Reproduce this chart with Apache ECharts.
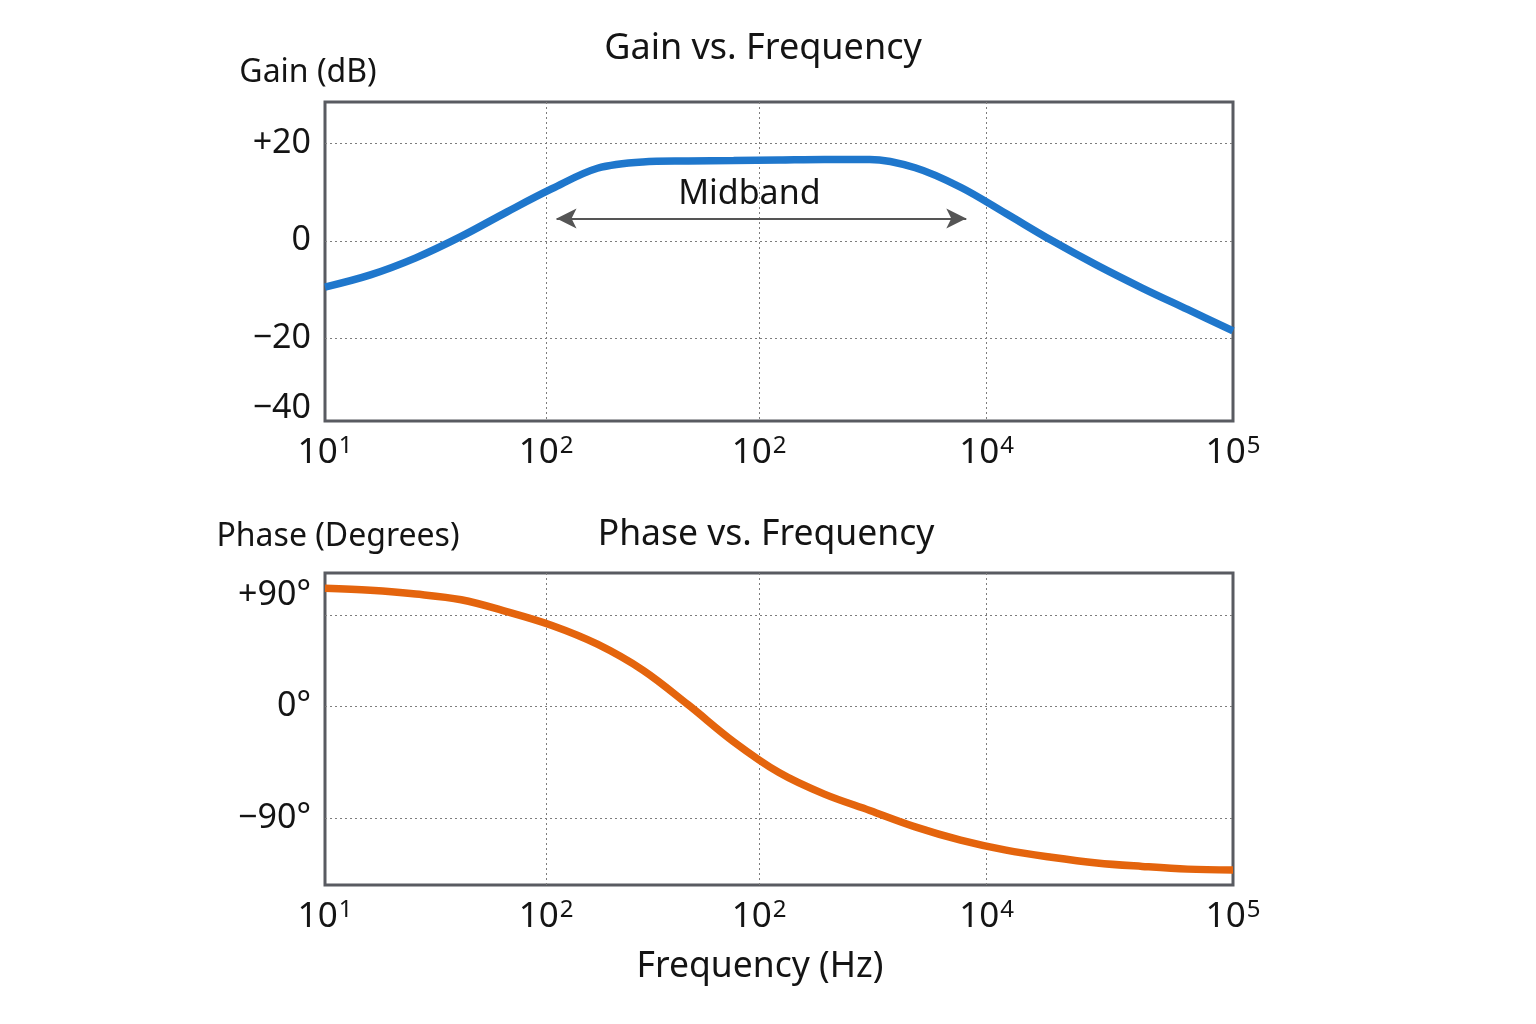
<!DOCTYPE html>
<html>
<head>
<meta charset="UTF-8">
<title>Gain / Phase vs. Frequency</title>
<script type="text/javascript" src="https://cdn.jsdelivr.net/npm/echarts@6/dist/echarts.min.js"></script>
<style>
	html, body { margin: 0; padding: 0; background: #fff; }
</style>
</head>
<body>
	<div id="box" style="width: 1536px; height: 1024px;"></div>

	<script type="text/javascript">
		// x is a position along the frequency axis, in "decades" from the left edge (1 .. 5)
		var xTickPos = [1, 1.974, 2.912, 3.915, 5];
		var xTickExp = ['1', '2', '2', '4', '5']; // labels as printed on the original
		var xGridPos = [1.974, 2.912, 3.915];

		// sample positions along x for both curves
		var curveX = [1.0, 1.2, 1.4, 1.6, 1.8, 2.0, 2.2, 2.4, 2.6, 2.8, 3.0, 3.2, 3.4, 3.6, 3.8, 4.0, 4.2, 4.4, 4.6, 4.8, 5.0];

		// gain curve (dB)
		var gainY = [-9.5, -7.0, -3.5, 0.9, 5.9, 10.7, 14.9, 16.2, 16.4, 16.5, 16.6, 16.7, 16.7, 15.0, 11.0, 5.6, 0.1, -5.0, -9.7, -14.1, -18.5];
		var gainTickVals = [20, 0, -20, -34.4];
		var gainTickLabels = ['+20', '0', '\u221220', '\u221240'];
		var gainGridVals = [20, 0, -20];
		var midband = [2.02, 3.825]; // arrow ends
		var midbandLevel = 4.6;

		// phase curve (degrees)
		var phaseY = [95.5, 93.8, 90.8, 86.2, 76.7, 65.5, 50.4, 29.5, 1.5, -28.2, -53.1, -70.5, -83.7, -96.9, -107.6, -115.7, -121.4, -126.0, -128.8, -131.0, -131.7];
		var phaseTickVals = [90, 0, -90];
		var phaseTickLabels = ['+90\u00b0', '0\u00b0', '\u221290\u00b0'];
		var phaseGridVals = [73.4, 0, -90];

		var FONT = '"Noto Sans", "Open Sans", sans-serif';
		var INK = '#141414';

		function pairs(xs, ys) {
			var out = [];
			for (var i = 0; i < xs.length; i++) {
				out.push([xs[i], ys[i]]);
			}
			return out;
		}

		function xAxisOpt(gridIndex) {
			return {
				type: 'value', gridIndex: gridIndex, min: 1, max: 5,
				axisLine: { show: false },
				axisTick: { show: false, customValues: xGridPos },
				splitLine: { show: true, lineStyle: { color: '#7d7d7d', type: [2, 3], width: 1 } },
				axisLabel: {
					customValues: xTickPos,
					margin: 11,
					formatter: function (v) {
						var i = xTickPos.indexOf(v);
						return '{n|10}{s|' + xTickExp[i] + '}';
					},
					rich: {
						n: { fontSize: 35, fontFamily: FONT, color: INK, lineHeight: 42 },
						s: { fontSize: 24, fontFamily: FONT, color: INK, verticalAlign: 'top', padding: [2, 0, 0, 1] }
					}
				}
			};
		}

		function yAxisOpt(gridIndex, min, max, tickVals, tickLabels, gridVals) {
			return {
				type: 'value', gridIndex: gridIndex, min: min, max: max,
				axisLine: { show: false },
				axisTick: { show: false, customValues: gridVals },
				splitLine: { show: true, lineStyle: { color: '#7d7d7d', type: [2, 3], width: 1 } },
				axisLabel: {
					customValues: tickVals,
					margin: 14,
					fontSize: 34, fontFamily: FONT, color: INK,
					formatter: function (v) {
						return tickLabels[tickVals.indexOf(v)];
					}
				}
			};
		}

		function textEl(str, x, y, size) {
			return {
				type: 'text', x: x, y: y,
				style: { text: str, fontSize: size, fontFamily: FONT, fill: INK, align: 'center', verticalAlign: 'middle' }
			};
		}

		var myChart = echarts.init(document.getElementById('box'));
		myChart.setOption({
			animation: false,
			grid: [
				{ left: 325, top: 102, width: 908, height: 319, show: true, borderColor: '#595b61', borderWidth: 3, backgroundColor: 'transparent' },
				{ left: 325, top: 573, width: 908, height: 312, show: true, borderColor: '#595b61', borderWidth: 3, backgroundColor: 'transparent' }
			],
			xAxis: [xAxisOpt(0), xAxisOpt(1)],
			yAxis: [
				yAxisOpt(0, -37.0, 28.5, gainTickVals, gainTickLabels, gainGridVals),
				yAxisOpt(1, -143.8, 107.8, phaseTickVals, phaseTickLabels, phaseGridVals)
			],
			graphic: [
				textEl('Gain vs. Frequency', 763, 49, 36),
				textEl('Gain (dB)', 308, 73, 32),
				textEl('Phase (Degrees)', 338, 537, 32),
				textEl('Phase vs. Frequency', 766, 535, 35.5),
				textEl('Frequency (Hz)', 760, 967, 35.5)
			],
			series: [
				{
					name: 'Gain', type: 'line', xAxisIndex: 0, yAxisIndex: 0,
					data: pairs(curveX, gainY), smooth: 0.35, showSymbol: false,
					lineStyle: { color: '#1f77cc', width: 7.5 },
					markLine: {
						silent: true,
						symbol: ['arrow', 'arrow'], symbolSize: [15, 20],
						lineStyle: { color: '#555', width: 2, type: 'solid' },
						label: {
							show: true, position: 'middle', formatter: 'Midband', distance: 7,
							fontSize: 34, fontFamily: FONT, color: INK, padding: [0, 24, 0, 0]
						},
						data: [[{ coord: [midband[0], midbandLevel] }, { coord: [midband[1], midbandLevel] }]]
					}
				},
				{
					name: 'Phase', type: 'line', xAxisIndex: 1, yAxisIndex: 1,
					data: pairs(curveX, phaseY), smooth: 0.35, showSymbol: false,
					lineStyle: { color: '#e4640d', width: 7.5 }
				}
			]
		});
	</script>

</body>
</html>
